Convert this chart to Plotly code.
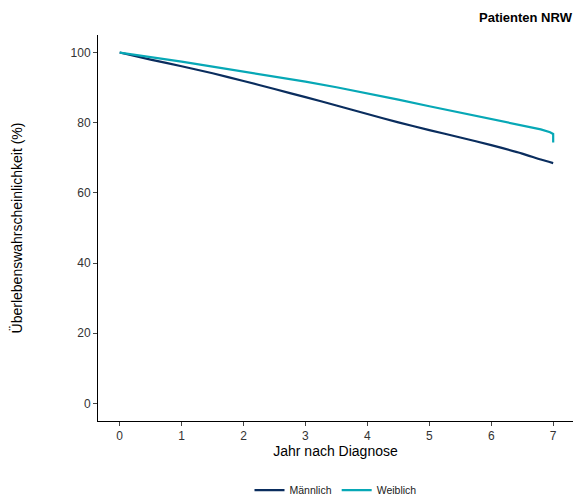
import plotly.graph_objects as go

years_m = [0, 0.5, 1, 1.5, 2, 2.5, 3, 3.5, 4, 4.5, 5, 5.5, 6, 6.5, 6.8, 7.0]
surv_m = [100, 98.0, 96.1, 94.1, 91.9, 89.6, 87.3, 84.9, 82.5, 80.1, 77.9, 75.8, 73.6, 71.2, 69.5, 68.5]
years_w = [0, 0.5, 1, 1.5, 2, 2.5, 3, 3.5, 4, 4.5, 5, 5.5, 6, 6.5, 6.8, 6.95, 7.0, 7.0]
surv_w = [100, 98.8, 97.4, 96.0, 94.6, 93.1, 91.7, 90.1, 88.4, 86.6, 84.7, 82.9, 80.9, 79.2, 78.1, 77.3, 76.8, 74.4]
x_ticks = [0, 1, 2, 3, 4, 5, 6, 7]
y_ticks = [0, 20, 40, 60, 80, 100]

font = "Liberation Sans, Arial, sans-serif"
fig = go.Figure()
fig.add_trace(go.Scatter(x=years_m, y=surv_m, mode="lines", name="Männlich",
                         line=dict(color="#0a2d5e", width=2.2, shape="spline", smoothing=0.6)))
fig.add_trace(go.Scatter(x=years_w, y=surv_w, mode="lines", name="Weiblich",
                         line=dict(color="#07a8b6", width=2.2)))
fig.update_layout(
    width=573, height=498,
    margin=dict(l=98, r=0, t=35, b=77, autoexpand=False),
    plot_bgcolor="white", paper_bgcolor="white",
    font=dict(family=font, size=11.5, color="#000"),
    showlegend=True,
    legend=dict(orientation="h", x=0.5, xanchor="center", yref="container", y=0.016, yanchor="middle",
                font=dict(size=10.5, color="#1a1a1a"), itemwidth=30, tracegroupgap=0),
    annotations=[dict(text="<b>Patienten NRW</b>", x=1.005, xref="paper", xanchor="right",
                      y=1.0466, yref="paper", yanchor="middle", showarrow=False,
                      font=dict(size=13))],
)
fig.update_xaxes(range=[-0.35, 7.32], tickvals=x_ticks, ticks="outside", ticklen=4,
                 showline=True, linecolor="#000", linewidth=1, showgrid=False, zeroline=False,
                 title=dict(text="Jahr nach Diagnose", standoff=2), tickfont=dict(size=12, color="#333"))
fig.update_yaxes(range=[-5, 105], tickvals=y_ticks, ticks="outside", ticklen=4,
                 showline=True, linecolor="#000", linewidth=1, showgrid=False, zeroline=False,
                 title=dict(text="Überlebenswahrscheinlichkeit (%)", standoff=44), tickfont=dict(size=12, color="#333"))
fig.write_html("out.html")
